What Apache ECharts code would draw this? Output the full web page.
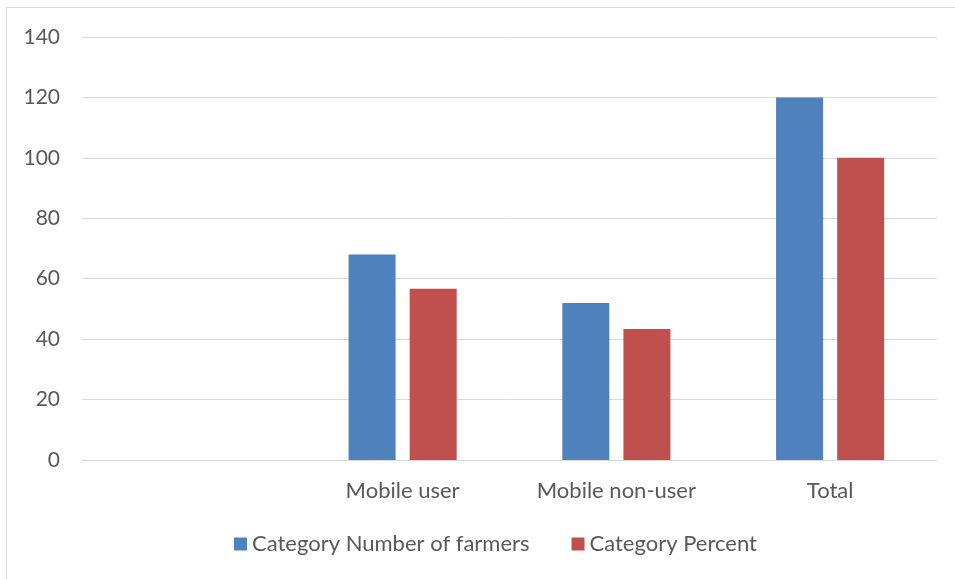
<!DOCTYPE html>
<html>
<head>
<meta charset="utf-8">
<script src="https://cdn.jsdelivr.net/npm/echarts@6/dist/echarts.min.js"></script>
<style>
html,body{margin:0;padding:0;background:#fff;overflow:hidden;}
#frame{position:absolute;left:6px;top:7px;width:960px;height:590px;border:1px solid #d9d9d9;box-sizing:border-box;}
#chart{position:absolute;left:0;top:0;width:955px;height:579px;}
</style>
</head>
<body>
<div id="frame"></div>
<div id="chart"></div>
<script>
var categories = ['', 'Mobile user', 'Mobile non-user', 'Total'];
var farmers = [null, 68, 52, 120];
var percent = [null, 56.67, 43.33, 100];
var yTicks = {min: 0, max: 140, interval: 20};

var chart = echarts.init(document.getElementById('chart'));
var font = 'Lato, "Open Sans", sans-serif';
chart.setOption({
  animation: false,
  textStyle: {fontFamily: font},
  grid: {left: 82, right: 18, top: 37, bottom: 119, containLabel: false},
  legend: {
    bottom: 19, left: 229,
    itemWidth: 13, itemHeight: 13, itemGap: 42,
    icon: 'rect',
    textStyle: {fontSize: 22, color: '#595959', fontFamily: font},
    data: ['Category Number of farmers', 'Category Percent']
  },
  xAxis: {
    type: 'category',
    data: categories,
    axisLine: {lineStyle: {color: '#d9d9d9', width: 1}},
    axisTick: {show: false},
    axisLabel: {fontSize: 22, color: '#595959', margin: 20, fontFamily: font}
  },
  yAxis: {
    type: 'value',
    min: yTicks.min, max: yTicks.max, interval: yTicks.interval,
    axisLine: {show: false},
    axisTick: {show: false},
    splitLine: {lineStyle: {color: '#d9d9d9', width: 1}},
    axisLabel: {fontSize: 21, color: '#595959', margin: 22, fontFamily: font}
  },
  series: [
    {name: 'Category Number of farmers', type: 'bar', data: farmers, barWidth: 47, barGap: '30%', itemStyle: {color: '#4f81bd'}},
    {name: 'Category Percent', type: 'bar', data: percent, barWidth: 47, itemStyle: {color: '#c0504d'}}
  ]
});
</script>
</body>
</html>
